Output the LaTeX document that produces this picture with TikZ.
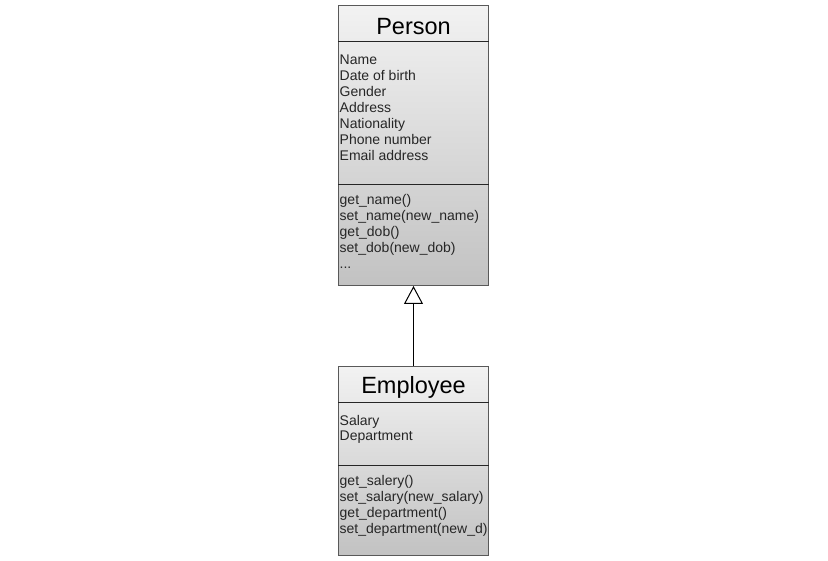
\documentclass[tikz,border=0pt]{standalone}
\usepackage{fontspec}
\setmainfont{Liberation Sans}
\usetikzlibrary{positioning,arrows.meta}

\definecolor{boxtop}{HTML}{F2F2F2}
\definecolor{boxbot}{HTML}{C2C2C2}
\definecolor{boxline}{HTML}{595959}

\begin{document}
\begin{tikzpicture}[x=1pt,y=-1pt]
  \tikzstyle{classbox}=[rectangle,draw=boxline,line width=1pt,top color=boxtop,bottom color=boxbot,minimum width=150pt,inner sep=0pt]
  \tikzstyle{titel}=[font=\fontsize{23.5}{28}\selectfont,inner sep=0pt]
  \tikzstyle{member}=[font=\fontsize{14}{16}\selectfont,align=left,anchor=base west,inner sep=0pt,text=black!85]
  \tikzstyle{divider}=[black!85,line width=1pt]

  \useasboundingbox (0,0) rectangle (828,561);

  % Person
  \node [classbox,minimum height=280pt,anchor=north west] (p) at (338,5) {};
  \draw [divider] ([yshift=-37pt]p.north west) -- ([yshift=-37pt]p.north east);
  \draw [divider] ([yshift=-180pt]p.north west) -- ([yshift=-180pt]p.north east);
  \node [titel] (ptitle) at ([yshift=-21.5pt]p.north) {Person};
  \node [member] (pattr) at ([xshift=1.5pt,yshift=-156pt]p.north west)
    {Name\\Date of birth\\Gender\\Address\\Nationality\\Phone number\\Email address};
  \node [member] (pmeth) at ([xshift=1.5pt,yshift=-264pt]p.north west)
    {get\_name()\\set\_name(new\_name)\\get\_dob()\\set\_dob(new\_dob)\\...};

  % Employee
  \node [classbox,minimum height=189pt] (e) [below=80pt of p] {};
  \draw [divider] ([yshift=-37pt]e.north west) -- ([yshift=-37pt]e.north east);
  \draw [divider] ([yshift=-99pt]e.north west) -- ([yshift=-99pt]e.north east);
  \node [titel] (etitle) at ([yshift=-21.5pt]e.north) {Employee};
  \node [member] (eattr) at ([xshift=1.5pt,yshift=-75pt]e.north west)
    {Salary\\Department};
  \node [member] (emeth) at ([xshift=1.5pt,yshift=-167pt]e.north west)
    {get\_salery()\\set\_salary(new\_salary)\\get\_department()\\set\_department(new\_d)};

  % inheritance
  \draw [line width=1pt,-{Triangle[open,length=18pt,width=19pt,fill=white]}] (e) -- (p);
\end{tikzpicture}
\end{document}
